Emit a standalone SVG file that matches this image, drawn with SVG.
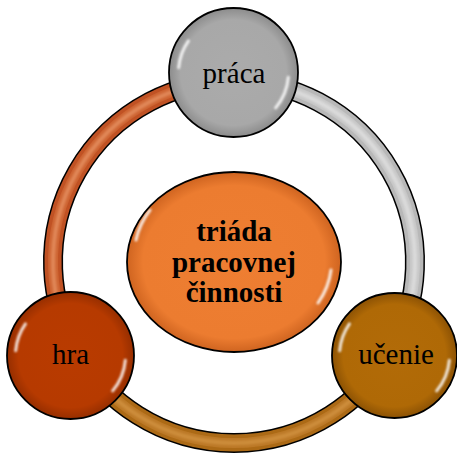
<svg xmlns="http://www.w3.org/2000/svg" width="457" height="454" viewBox="0 0 457 454">
<style>
.lbl{font-family:"Liberation Serif","Times New Roman",serif;font-size:29px;fill:#000;text-anchor:middle}
.ctr{font-family:"Liberation Serif","Times New Roman",serif;font-size:29px;font-weight:bold;fill:#000;text-anchor:middle}
.outline{fill:none;stroke:#000;stroke-width:1.8}
.hl{fill:none;stroke:#fff;stroke-width:3;stroke-linecap:round;filter:url(#blur);opacity:0.85}
.ringK{fill:none;stroke:#000;stroke-width:20}
.stripe{fill:none;stroke-width:4;filter:url(#blur2);opacity:0.6}
</style>
<defs>
<filter id="blur" x="-50%" y="-50%" width="200%" height="200%"><feGaussianBlur stdDeviation="1"/></filter>
<filter id="blur2" x="-20%" y="-20%" width="140%" height="140%"><feGaussianBlur stdDeviation="1.5"/></filter>
<radialGradient id="gGray" cx="50%" cy="50%" r="50%"><stop offset="0" stop-color="#ABABAB"/><stop offset="0.82" stop-color="#A8A8A8"/><stop offset="1" stop-color="#8C8C8C"/></radialGradient>
<radialGradient id="gHra" cx="50%" cy="50%" r="50%"><stop offset="0" stop-color="#B93B00"/><stop offset="0.82" stop-color="#B63A00"/><stop offset="1" stop-color="#962E00"/></radialGradient>
<radialGradient id="gUc" cx="50%" cy="50%" r="50%"><stop offset="0" stop-color="#B26B08"/><stop offset="0.82" stop-color="#AF6906"/><stop offset="1" stop-color="#8C5204"/></radialGradient>
<radialGradient id="gCtr" cx="50%" cy="50%" r="50%"><stop offset="0" stop-color="#EE7E32"/><stop offset="0.85" stop-color="#EC7C30"/><stop offset="1" stop-color="#CF6420"/></radialGradient>
<g id="hlC">
<path class="hl" d="M -54.8 -4.8 A 55 55 0 0 1 -45.05 -31.55"/>
<path class="hl" d="M 54.8 4.8 A 55 55 0 0 1 42.13 35.35"/>
</g>
</defs>

<g id="connectors">
<g id="arc-left">
<path class="ringK" d="M 77.25 352.5 A 181 181 0 0 1 234 81"/>
<path fill="none" stroke="#C05224" stroke-width="17" d="M 77.25 352.5 A 181 181 0 0 1 234 81"/>
<path fill="none" stroke="#CC6230" stroke-width="10" d="M 77.25 352.5 A 181 181 0 0 1 234 81"/>
<path class="stripe" stroke="#F2A77A" d="M 77.25 352.5 A 181 181 0 0 1 234 81"/>
</g>
<g id="arc-right">
<path class="ringK" d="M 234 81 A 181 181 0 0 1 390.75 352.5"/>
<path fill="none" stroke="#B8B8B8" stroke-width="17" d="M 234 81 A 181 181 0 0 1 390.75 352.5"/>
<path fill="none" stroke="#C6C6C6" stroke-width="10" d="M 234 81 A 181 181 0 0 1 390.75 352.5"/>
<path class="stripe" stroke="#EDEDED" d="M 234 81 A 181 181 0 0 1 390.75 352.5"/>
</g>
<g id="arc-bottom">
<path class="ringK" d="M 390.75 352.5 A 181 181 0 0 1 77.25 352.5"/>
<path fill="none" stroke="#AC6A16" stroke-width="17" d="M 390.75 352.5 A 181 181 0 0 1 77.25 352.5"/>
<path fill="none" stroke="#BB7826" stroke-width="10" d="M 390.75 352.5 A 181 181 0 0 1 77.25 352.5"/>
<path class="stripe" stroke="#DDA050" d="M 390.75 352.5 A 181 181 0 0 1 77.25 352.5"/>
</g>
</g>

<g id="node-center">
<ellipse cx="234" cy="262" rx="107" ry="90" fill="url(#gCtr)"/>
<path class="hl" d="M 136 240 A 98 82 0 0 1 150 210"/>
<path class="hl" d="M 331 270 A 98 82 0 0 1 318 303"/>
<ellipse class="outline" cx="234" cy="262" rx="107" ry="90"/>
<text class="ctr" x="234" y="241">triáda</text>
<text class="ctr" x="234" y="271.5">pracovnej</text>
<text class="ctr" x="234" y="302">činnosti</text>
</g>

<g id="node-praca">
<circle cx="233.5" cy="72.5" r="64.5" fill="url(#gGray)"/>
<use href="#hlC" transform="translate(233.5 72.5)"/>
<circle class="outline" cx="233.5" cy="72.5" r="64.5"/>
<text class="lbl" x="234" y="83">práca</text>
</g>

<g id="node-hra">
<circle cx="70.5" cy="355.5" r="63.5" fill="url(#gHra)"/>
<use href="#hlC" transform="translate(70.5 355.5)"/>
<circle class="outline" cx="70.5" cy="355.5" r="63.5"/>
<text class="lbl" x="70.5" y="364">hra</text>
</g>

<g id="node-ucenie">
<circle cx="394.5" cy="355.5" r="62.5" fill="url(#gUc)"/>
<use href="#hlC" transform="translate(394.5 355.5)"/>
<circle class="outline" cx="394.5" cy="355.5" r="62.5"/>
<text class="lbl" x="396" y="364">učenie</text>
</g>
</svg>
